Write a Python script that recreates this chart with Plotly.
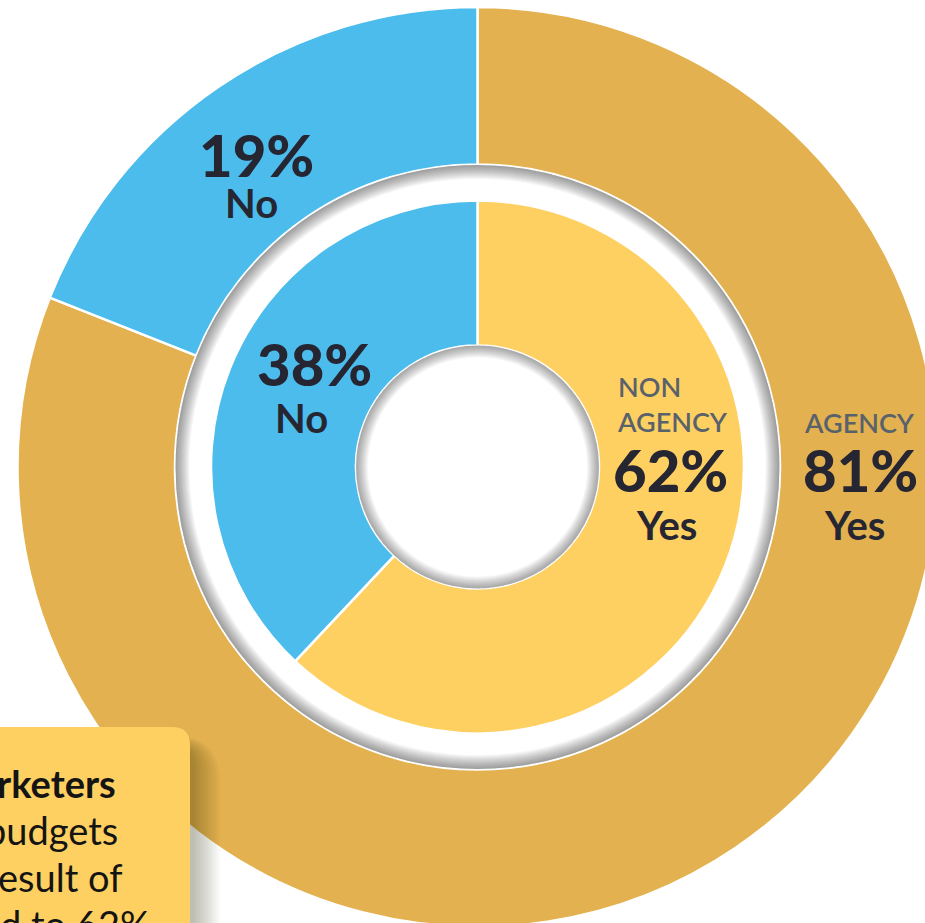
import plotly.graph_objects as go

# ---- data -------------------------------------------------------------
answer_labels = ["Yes", "No"]
agency_values = [81, 19]        # outer ring: agency marketers
non_agency_values = [62, 38]    # inner ring: non-agency marketers
group_names = ["AGENCY", "NON<br>AGENCY"]

# ---- styling / geometry (pixels) --------------------------------------
W, H = 960, 960
CX, CY = 477.5, 467.0
R_OUT, R_OUT_HOLE = 460.0, 302.5
R_IN, R_IN_HOLE = 266.5, 121.5

GOLD = "#E3B14F"
BLUE = "#4BBCEB"
YELLOW = "#FED062"
NAVY = "#262633"
GREY = "#59626B"
FONT = "Lato"


def px_x(x):
    return x / W


def px_y(y):
    return 1 - y / H


def domain_for(r):
    return dict(x=[px_x(CX - r), px_x(CX + r)], y=[px_y(CY + r), px_y(CY - r)])


fig = go.Figure()

fig.add_trace(go.Pie(
    labels=answer_labels, values=agency_values, hole=R_OUT_HOLE / R_OUT,
    domain=domain_for(R_OUT), sort=False, direction="clockwise", rotation=0,
    marker=dict(colors=[GOLD, BLUE], line=dict(color="white", width=2.5)),
    textinfo="none", hoverinfo="label+percent", showlegend=False,
))
fig.add_trace(go.Pie(
    labels=answer_labels, values=non_agency_values, hole=R_IN_HOLE / R_IN,
    domain=domain_for(R_IN), sort=False, direction="clockwise", rotation=0,
    marker=dict(colors=[YELLOW, BLUE], line=dict(color="white", width=2.5)),
    textinfo="none", hoverinfo="label+percent", showlegend=False,
))

shapes = []


def inset_shadow(radius, depth=14.0, steps=14, alpha=0.03):
    # stacked translucent strokes just inside a circle edge -> soft inner shadow
    for k in range(1, steps + 1):
        w = depth * k / steps
        r = radius - w / 2
        shapes.append(dict(
            type="circle", xref="paper", yref="paper",
            x0=px_x(CX - r), x1=px_x(CX + r), y0=px_y(CY + r), y1=px_y(CY - r),
            line=dict(color=f"rgba(0,0,0,{alpha})", width=w), fillcolor="rgba(0,0,0,0)",
        ))


inset_shadow(R_OUT_HOLE - 0.5)
inset_shadow(R_IN_HOLE, depth=12, alpha=0.028)


def rounded_box(left, top, right, bottom, rad):
    return (f"M {px_x(left)},{px_y(top)} L {px_x(right - rad)},{px_y(top)} "
            f"Q {px_x(right)},{px_y(top)} {px_x(right)},{px_y(top + rad)} "
            f"L {px_x(right)},{px_y(bottom)} L {px_x(left)},{px_y(bottom)} Z")


# callout box with a soft drop shadow
BOX = dict(left=-60, top=727, right=190, bottom=1100)
for e in range(2, 30, 2):
    shapes.append(dict(
        type="path", xref="paper", yref="paper",
        path=rounded_box(BOX["left"], BOX["top"] + 20 - e * 0.4, BOX["right"] + 2 + e,
                         BOX["bottom"], 18 + e),
        fillcolor="rgba(40,30,0,0.025)", line=dict(width=0),
    ))
shapes.append(dict(
    type="path", xref="paper", yref="paper",
    path=rounded_box(BOX["left"], BOX["top"], BOX["right"], BOX["bottom"], 18),
    fillcolor=YELLOW, line=dict(width=0),
))

annotations = []


def label(text, x, y, size, color=NAVY, weight=700, xanchor="center"):
    annotations.append(dict(
        text=text, x=px_x(x), y=px_y(y), xref="paper", yref="paper",
        xanchor=xanchor, yanchor="middle", showarrow=False,
        font=dict(family=FONT, size=size, color=color, weight=weight),
    ))


def pct(v):
    return f"{v}%"


# outer ring labels
label(pct(agency_values[1]), 256, 154, 58, weight=900)
label(answer_labels[1], 251, 203, 40)
label(group_names[0], 859, 422, 27, color=GREY, weight=600)
label(pct(agency_values[0]), 860, 469, 58, weight=900)
label(answer_labels[0], 854, 525, 40)

# inner ring labels
label(pct(non_agency_values[1]), 314, 363, 58, weight=900)
label(answer_labels[1], 301, 418, 40)
annotations.append(dict(
    text=group_names[1], x=px_x(615), y=px_y(404), xref="paper", yref="paper",
    xanchor="left", yanchor="middle", align="left", showarrow=False,
    font=dict(family=FONT, size=27, color=GREY, weight=600),
))
label(pct(non_agency_values[0]), 670, 469, 58, weight=900)
label(answer_labels[0], 666, 525, 40)

# callout text
callout_lines = [("marketers", 700, 118, 783), ("budgets", 400, 120, 830),
                 ("result of", 400, 125, 877), ("led to 62%", 400, 152, 924)]
for txt, wt, right, ymid in callout_lines:
    label(txt, right, ymid, 38, color="#141414", weight=wt, xanchor="right")

fig.update_layout(
    width=W, height=H, margin=dict(l=0, r=0, t=0, b=0, pad=0),
    paper_bgcolor="white", plot_bgcolor="white",
    shapes=shapes, annotations=annotations, showlegend=False,
    font=dict(family=FONT),
)

fig.write_html(
    "out.html",
    post_script="document.documentElement.style.overflow='hidden';"
                "document.body.style.overflow='hidden';document.body.style.margin='0';",
)
